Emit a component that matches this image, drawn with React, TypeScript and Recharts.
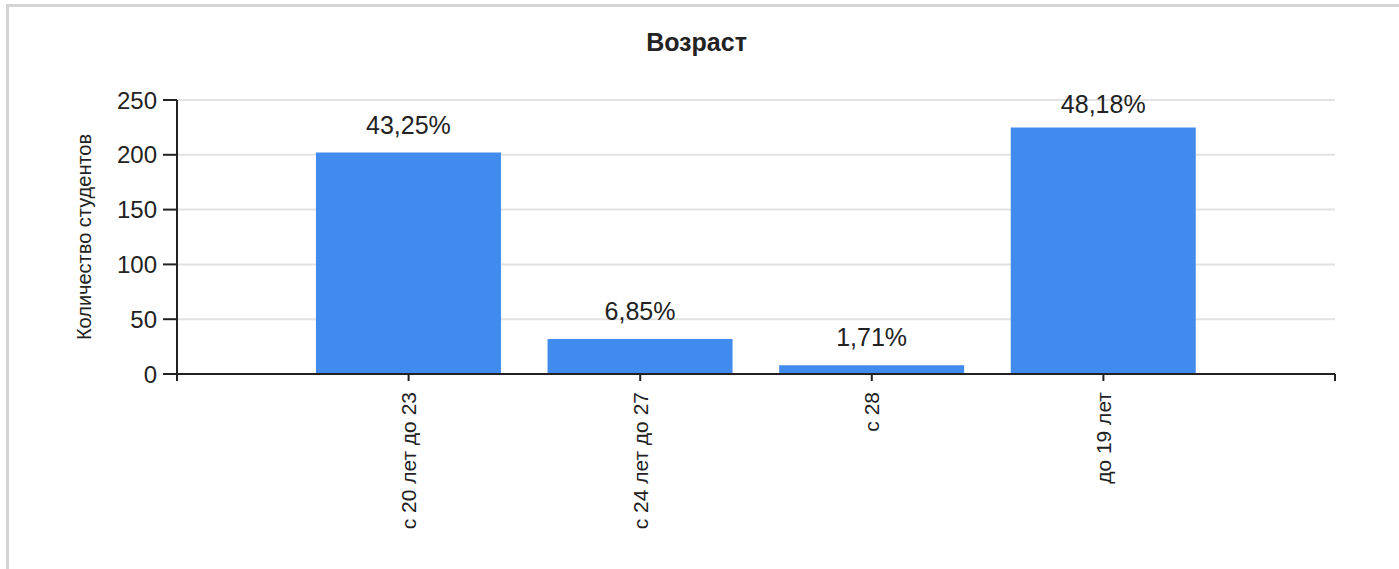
import { Bar, BarChart, CartesianGrid, LabelList, XAxis, YAxis } from "recharts";

const categories = ["с 20 лет до 23", "с 24 лет до 27", "с 28", "до 19 лет"];
const students = [202, 32, 8, 225];
const shares = ["43,25%", "6,85%", "1,71%", "48,18%"];
const yTicks = [0, 50, 100, 150, 200, 250];

// categories sit on slots 1..4 of a 0..5 axis, leaving an empty slot at each end
const data = categories.map((name, i) => ({
  pos: i + 1,
  name,
  students: students[i],
  share: shares[i],
}));

const xTicks = [0, 1, 2, 3, 4, 5];

const ink = "#222222";

function CategoryTick(props: any) {
  const { x, y, payload } = props;
  const label = categories[payload.value - 1];
  if (!label) return null;
  return (
    <text
      x={x}
      y={y}
      dy="0.35em"
      transform={`rotate(-90, ${x}, ${y})`}
      textAnchor="end"
      fill={ink}
      fontSize={21}
    >
      {label}
    </text>
  );
}

function ShareLabel(props: any) {
  const { x, y, width, value } = props;
  const ty = Math.max(Number(y) - 19, 113);
  return (
    <text
      x={Number(x) + Number(width) / 2}
      y={ty}
      textAnchor="middle"
      fill={ink}
      fontSize={25}
    >
      {value}
    </text>
  );
}

export default function App() {
  return (
    <div
      style={{
        position: "absolute",
        left: 0,
        top: 0,
        width: 1399,
        height: 569,
        background: "#fff",
        fontFamily: "'Liberation Sans', Arial, sans-serif",
        overflow: "hidden",
      }}
    >
      <div
        style={{
          position: "absolute",
          left: 6,
          top: 4,
          width: 1393,
          height: 565,
          borderTop: "3px solid #d4d4d4",
          borderLeft: "3px solid #d4d4d4",
          boxSizing: "border-box",
        }}
      />
      <div
        style={{
          position: "absolute",
          left: 0,
          top: 28,
          width: 1393,
          textAlign: "center",
          fontSize: 25,
          fontWeight: "bold",
          color: ink,
        }}
      >
        Возраст
      </div>
      <div style={{ position: "absolute", left: 0, top: 0 }}>
        <BarChart
          width={1399}
          height={569}
          data={data}
          margin={{ top: 100, right: 64, bottom: 0, left: 0 }}
        >
          <CartesianGrid
            vertical={false}
            stroke="#e2e2e2"
            strokeWidth={2}
          />
          <XAxis
            type="number"
            dataKey="pos"
            domain={[0, 5]}
            ticks={xTicks}
            interval={0}
            height={195}
            tickSize={7}
            tickMargin={11}
            tick={<CategoryTick />}
            tickLine={{ stroke: ink, strokeWidth: 2 }}
            axisLine={{ stroke: ink, strokeWidth: 2 }}
          />
          <YAxis
            domain={[0, 250]}
            ticks={yTicks}
            width={177}
            tickSize={14}
            tickMargin={6}
            tick={{ fill: ink, fontSize: 24 }}
            tickLine={{ stroke: ink, strokeWidth: 2 }}
            axisLine={{ stroke: ink, strokeWidth: 2 }}
            label={{
              value: "Количество студентов",
              angle: -90,
              position: "insideLeft",
              offset: 84,
              style: { textAnchor: "middle", fontSize: 20, fill: ink },
            }}
          />
          <Bar dataKey="students" fill="#418bee" isAnimationActive={false}>
            <LabelList dataKey="share" content={<ShareLabel />} />
          </Bar>
        </BarChart>
      </div>
    </div>
  );
}
